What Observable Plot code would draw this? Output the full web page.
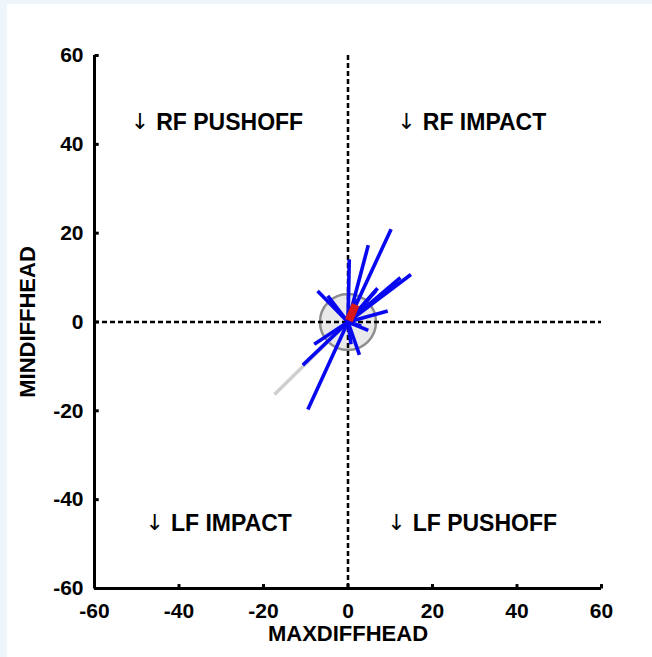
<!DOCTYPE html>
<html>
<head>
<meta charset="utf-8">
<script src="https://cdn.jsdelivr.net/npm/d3@7"></script>
<script src="https://cdn.jsdelivr.net/npm/@observablehq/plot@0.6"></script>
<style>
  html, body { margin: 0; padding: 0; background: #eef5fb; }
  #page { position: absolute; left: 7px; top: 4px; width: 645px; height: 653px; background: #ffffff; }
  #chart { position: absolute; left: 0; top: 0; }
</style>
</head>
<body>
<div id="page"></div>
<div id="chart"></div>
<script>
// Axis domain and ticks
const xDomain = [-60, 60];
const yDomain = [-60, 60];
const xTicks = [-60, -40, -20, 0, 20, 40, 60];
const yTicks = [-60, -40, -20, 0, 20, 40, 60];
const xTitle = "MAXDIFFHEAD";
const yTitle = "MINDIFFHEAD";

// Quadrant labels (text start positions)
const quadArrow = ["↓", "↓", "↓", "↓"];
const quadText = ["RF PUSHOFF", "RF IMPACT", "LF IMPACT", "LF PUSHOFF"];
const quadX = [-45.4, 17.7, -41.9, 15.3];
const quadY = [45, 45, -45.3, -45.3];

// Blue vectors (end points; all start at origin)
const blueEndX = [10.2, 4.8, 0.3, 14.9, 12.4, 11.8, 7.0, 6.6, 9.4, 4.8, 2.7, -7.2, -4.8, -8.0, -10.7, -9.5, 2.3, 4.7, 0.7, 3.1];
const blueEndY = [20.9, 17.3, 14.1, 10.7, 10.0, 9.2, 7.6, 7.0, 2.5, -1.9, -7.4, 7.0, 5.9, -5.0, -9.7, -19.7, 5.1, 4.0, -5.0, -0.9];

// Grey vector
const greyEndX = [-17.4];
const greyEndY = [-16.3];

// Red mean vector
const redStartX = [0.2];
const redStartY = [0.3];
const redEndX = [1.8];
const redEndY = [3.9];

// Grey confidence circle (centre)
const circleX = [0];
const circleY = [0];

const blue = blueEndX.map((x, i) => ({x1: 0, y1: 0, x2: x, y2: blueEndY[i]}));
const grey = greyEndX.map((x, i) => ({x1: 0, y1: 0, x2: x, y2: greyEndY[i]}));
const red = redEndX.map((x, i) => ({x1: redStartX[i], y1: redStartY[i], x2: x, y2: redEndY[i]}));
const circ = circleX.map((x, i) => ({x, y: circleY[i]}));
const quads = quadText.map((t, i) => ({t, a: quadArrow[i], x: quadX[i], y: quadY[i]}));
const fmt = d => String(d);

const chart = Plot.plot({
  width: 652,
  height: 657,
  marginLeft: 94,
  marginRight: 51,
  marginTop: 55,
  marginBottom: 69,
  x: {domain: xDomain},
  y: {domain: yDomain},
  style: {fontFamily: "'Liberation Sans', Arial, sans-serif", fontWeight: "bold", background: "transparent", color: "#000"},
  marks: [
    Plot.dot(circ, {x: "x", y: "y", r: 28, fill: "#e9e9e9", stroke: "#8e8e8e", strokeWidth: 2.5}),
    Plot.ruleX([0], {stroke: "#000", strokeWidth: 2.5, strokeDasharray: "5,3"}),
    Plot.ruleY([0], {stroke: "#000", strokeWidth: 2.5, strokeDasharray: "5,3"}),
    Plot.link(grey, {x1: "x1", y1: "y1", x2: "x2", y2: "y2", stroke: "#cfcfcf", strokeWidth: 3.5}),
    Plot.link(blue, {x1: "x1", y1: "y1", x2: "x2", y2: "y2", stroke: "#0808f0", strokeWidth: 3.6}),
    Plot.link(red, {x1: "x1", y1: "y1", x2: "x2", y2: "y2", stroke: "#d81818", strokeWidth: 8}),
    Plot.ruleX([xDomain[0]], {stroke: "#000", strokeWidth: 3}),
    Plot.ruleY([yDomain[0]], {stroke: "#000", strokeWidth: 3}),
    Plot.link(xTicks, {x1: d => d, x2: d => d, y1: yDomain[0], y2: yDomain[0] + 1, stroke: "#000", strokeWidth: 3}),
    Plot.link(yTicks, {y1: d => d, y2: d => d, x1: xDomain[0], x2: xDomain[0] + 1, stroke: "#000", strokeWidth: 3}),
    Plot.axisX(xTicks, {tickSize: 0, tickPadding: 15, fontSize: 21, fontWeight: "bold", label: null, tickFormat: fmt}),
    Plot.axisY(yTicks, {tickSize: 0, tickPadding: 11, fontSize: 21, fontWeight: "bold", label: null, tickFormat: fmt}),
    Plot.text([xTitle], {frameAnchor: "bottom", dy: 52, text: d => d, fontSize: 22, fontWeight: "bold"}),
    Plot.text([yTitle], {frameAnchor: "left", dx: -67, rotate: -90, textAnchor: "middle", text: d => d, fontSize: 22, fontWeight: "bold"}),
    Plot.text(quads, {x: "x", y: "y", text: "a", textAnchor: "end", dx: -7, fontSize: 22, fontWeight: "normal", fontFamily: "'DejaVu Sans', sans-serif"}),
    Plot.text(quads, {x: "x", y: "y", text: "t", textAnchor: "start", fontSize: 23, fontWeight: "bold"})
  ]
});
document.getElementById("chart").appendChild(chart);
</script>
</body>
</html>
